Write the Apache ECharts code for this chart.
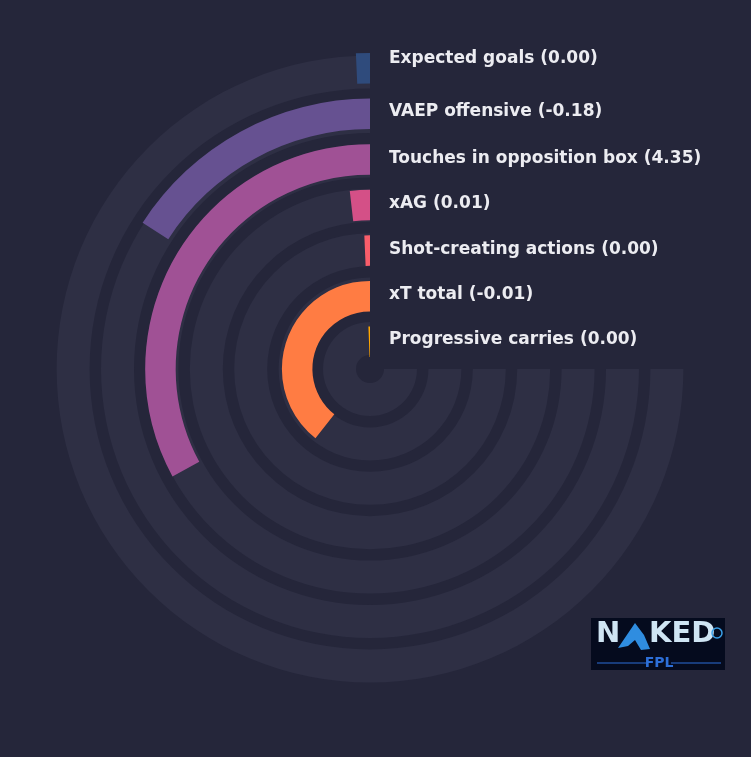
<!DOCTYPE html>
<html>
<head>
<meta charset="utf-8">
<script src="https://cdn.jsdelivr.net/npm/echarts@6/dist/echarts.min.js"></script>
<style>
html,body{margin:0;padding:0;background:#25263a;}
#chart{width:751px;height:757px;}
</style>
</head>
<body>
<div id="chart"></div>
<script>
// Metric names, outer ring first
const metrics = ['Expected goals', 'VAEP offensive', 'Touches in opposition box', 'xAG', 'Shot-creating actions', 'xT total', 'Progressive carries'];
// Raw values shown in the labels
const rawValues = ['0.00', '-0.18', '4.35', '0.01', '0.00', '-0.01', '0.00'];
// Bar length (percent of the 270° track)
const barValues = [0.95, 21.2, 43.9, 2.4, 0.9, 52.5, 0.8];
// Bar colours
const barColors = ['#2f4b7c', '#665191', '#a05195', '#d45087', '#f95d6a', '#ff7c43', '#ffa600'];
// Track full value
const trackMax = 100;

// layout
const labelY = [58.5, 112, 158.5, 203.5, 249.5, 295, 340];

const chart = echarts.init(document.getElementById('chart'));
const graphics = metrics.map((m, i) => ({
  type: 'text',
  x: 389,
  y: labelY[i],
  style: {
    text: m + ' (' + rawValues[i] + ')',
    fill: '#ececf1',
    font: 'bold 17px "DejaVu Sans"',
    verticalAlign: 'middle'
  },
  z: 100
}));
// logo
graphics.push({
  type: 'group', x: 591, y: 618, z: 100,
  children: [
    { type: 'rect', shape: { x: 0, y: 0, width: 134, height: 52 }, style: { fill: '#050b1e' } },
    { type: 'text', x: 5, y: 2, style: { text: 'N', fill: '#cfe5f4', font: 'bold 29px "DejaVu Sans"' } },
    { type: 'polygon', shape: { points: [[27,30],[44,5],[53,17],[59,31],[50,32],[44,22],[37,28]] }, style: { fill: '#2f8de0' } },
    { type: 'text', x: 58, y: 2, style: { text: 'KED', fill: '#cfe5f4', font: 'bold 29px "DejaVu Sans"' } },
    { type: 'circle', shape: { cx: 126, cy: 15, r: 5 }, style: { fill: 'none', stroke: '#3aa0e8', lineWidth: 1.5 } },
    { type: 'line', shape: { x1: 6, y1: 45, x2: 56, y2: 45 }, style: { stroke: '#2d6fd8', lineWidth: 1 } },
    { type: 'line', shape: { x1: 80, y1: 45, x2: 130, y2: 45 }, style: { stroke: '#2d6fd8', lineWidth: 1 } },
    { type: 'text', x: 68, y: 45, style: { text: 'FPL', fill: '#2d6fd8', font: 'bold 14px "DejaVu Sans"', align: 'center', verticalAlign: 'middle' } }
  ]
});

const angleAxisBase = {
  type: 'value', min: 0, max: trackMax * 360 / 270,
  startAngle: 90, clockwise: false, show: false,
  splitLine: { show: false }
};
const radiusAxisBase = {
  type: 'category', data: metrics, inverse: true, show: false,
  splitLine: { show: false }
};

chart.setOption({
  backgroundColor: '#25263a',
  animation: false,
  polar: [
    { center: [370, 369], radius: [8.3, 319.1] },
    { center: [370, 369], radius: [4.5, 323.5] }
  ],
  angleAxis: [
    Object.assign({ polarIndex: 0 }, angleAxisBase),
    Object.assign({ polarIndex: 1 }, angleAxisBase)
  ],
  radiusAxis: [
    Object.assign({ polarIndex: 0 }, radiusAxisBase),
    Object.assign({ polarIndex: 1 }, radiusAxisBase)
  ],
  series: [
    {
      type: 'bar', coordinateSystem: 'polar', polarIndex: 0, name: 'track',
      data: metrics.map(() => trackMax),
      barWidth: 33,
      itemStyle: { color: '#2e2f44' }, silent: true, z: 1
    },
    {
      type: 'bar', coordinateSystem: 'polar', polarIndex: 1, name: 'value',
      data: barValues.map((v, i) => ({ value: v, itemStyle: { color: barColors[i] } })),
      barWidth: 30.5, z: 2
    }
  ],
  graphic: graphics
});
</script>
</body>
</html>
